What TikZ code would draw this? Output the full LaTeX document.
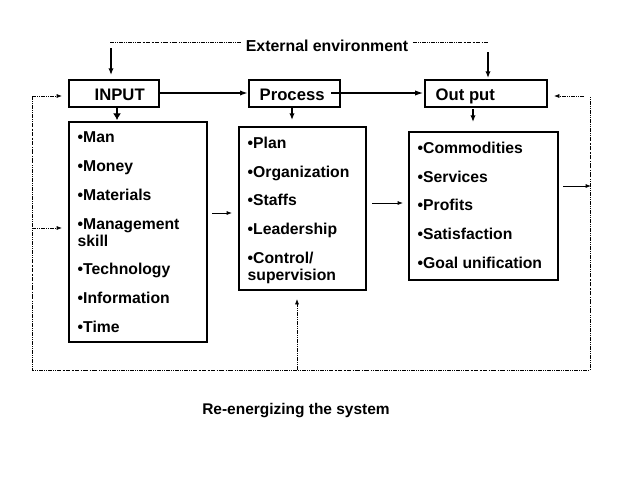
\documentclass[tikz,border=0pt]{standalone}
\usepackage{fontspec}
\setmainfont{Liberation Sans}
\usetikzlibrary{arrows.meta}
\begin{document}
\begin{tikzpicture}[x=0.75pt,y=-0.75pt,
  box/.style={draw,line width=0.8pt,inner sep=0pt},
  hd/.style={font=\bfseries\fontsize{12.5}{14}\selectfont,anchor=west},
  lst/.style={font=\bfseries\fontsize{11.8}{12.5}\selectfont,anchor=north west,align=left},
  dsh/.style={densely dash dot dot,line width=0.5pt},
  arr/.style={-{Latex[length=4pt,width=3pt]},line width=0.6pt}]
\useasboundingbox (0,0) rectangle (638,479);
% header boxes
\draw[box] (69,80) rectangle (159,107);
\node[hd] (tin) at (90,95) {INPUT};
\draw[box] (249,80) rectangle (340,107);
\node[hd] (tpr) at (255,95) {Process};
\draw[box] (425,80) rectangle (547,107);
\node[hd] (tout) at (431,96) {Out put};
\coordinate (inE) at (160,93); \coordinate (prW) at (248,93);
\coordinate (prE) at (331,93); \coordinate (outW) at (423,93);
\draw[-{Latex[length=6pt,width=4pt]},line width=1.5pt] (inE) -- (prW);
\draw[-{Latex[length=6pt,width=4pt]},line width=0.8pt] (prE) -- (outW);
% lists
\draw[box] (69,122) rectangle (207,342);
\node[lst] (l1) at (73,127) {•Man\\[9.2pt]•Money\\[9.2pt]•Materials\\[9.2pt]•Management\\skill\\[9.2pt]•Technology\\[9.2pt]•Information\\[9.2pt]•Time};
\draw[box] (239,127) rectangle (366,290);
\node[lst] (l2) at (243,132) {•Plan\\[9.2pt]•Organization\\[9.2pt]•Staffs\\[9.2pt]•Leadership\\[9.2pt]•Control/\\supervision};
\draw[box] (409,132) rectangle (558,280);
\node[lst] (l3) at (413,137) {•Commodities\\[9.2pt]•Services\\[9.2pt]•Profits\\[9.2pt]•Satisfaction\\[9.2pt]•Goal unification};
% small down arrows
\coordinate (a1) at (117,108); \coordinate (a1e) at (117,120);
\coordinate (a2) at (292,108); \coordinate (a2e) at (292,120);
\coordinate (a3) at (473,109); \coordinate (a3e) at (473,122);
\draw[-{Latex[length=5pt,width=6pt]},line width=0.8pt] (a1) -- (a1e);
\draw[-{Latex[length=5pt,width=4pt]},line width=1pt] (a2) -- (a2e);
\draw[-{Latex[length=5pt,width=4pt]},line width=1pt] (a3) -- (a3e);
% between arrows
\coordinate (b1) at (212,213); \coordinate (b1e) at (232,213);
\coordinate (b2) at (372,203); \coordinate (b2e) at (403,203);
\coordinate (b3) at (563,186); \coordinate (b3e) at (591,186);
\draw[arr] (b1) -- (b1e); \draw[arr] (b2) -- (b2e); \draw[arr] (b3) -- (b3e);
% external environment
\node[font=\bfseries\fontsize{11.9}{13}\selectfont] (ext) at (327,46) {External environment};
\coordinate (e1) at (110,42); \coordinate (e2) at (488,42);
\draw[dsh] (e1) -- (ext.west |- e1);
\draw[dsh] (ext.east |- e2) -- (e2);
\draw[-{Latex[length=5pt,width=4pt]},line width=1pt] (111,48) -- (111,75);
\draw[-{Latex[length=5pt,width=4pt]},line width=1pt] (488,52) -- (488,78);
% feedback loop
\coordinate (bl) at (32,370); \coordinate (br) at (590,370);
\coordinate (tl) at (32,96); \coordinate (tr) at (590,96);
\draw[dsh] (tl) -- (bl) -- (br) -- (tr);
\draw[dsh,-{Latex[length=4pt,width=3pt]}] (tl) -- (62,96);
\draw[dsh,-{Latex[length=4pt,width=3pt]}] (32,228) -- (62,228);
\draw[dsh,-{Latex[length=4pt,width=3pt]}] (584,96) -- (554,96);
\draw[dsh,-{Latex[length=4pt,width=3pt]}] (297,370) -- (297,299);
\node[font=\bfseries\fontsize{11.6}{13}\selectfont] (re) at (296,411) {Re-energizing the system};
\end{tikzpicture}
\end{document}
